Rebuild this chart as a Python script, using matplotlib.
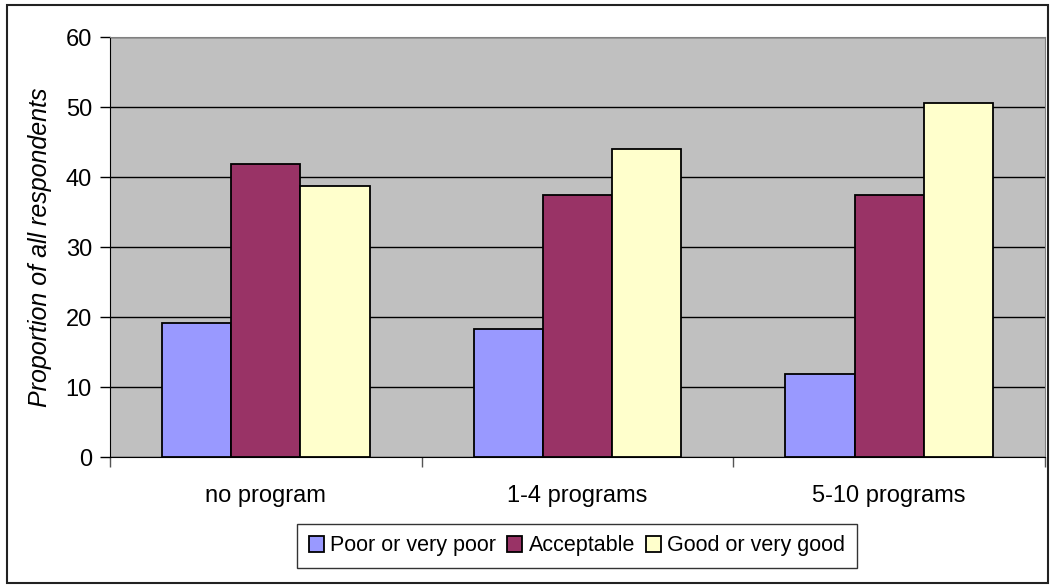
import matplotlib
matplotlib.use("Agg")
import matplotlib.pyplot as plt
import numpy as np
from matplotlib.patches import Rectangle

plt.rcParams['font.family'] = ['Liberation Sans', 'DejaVu Sans']

categories = ["no program", "1-4 programs", "5-10 programs"]
series_names = ["Poor or very poor", "Acceptable", "Good or very good"]
poor = [19.2, 18.3, 11.9]
acceptable = [41.8, 37.5, 37.5]
good = [38.7, 44.0, 50.6]
colors = ["#9999FF", "#993366", "#FFFFCC"]

W, H = 1050, 585
fig = plt.figure(figsize=(W / 100, H / 100), dpi=100)

# outer chart border
fig.patches.append(Rectangle((7 / W, 2 / H), 1041 / W, 578 / H, transform=fig.transFigure,
                             fill=False, edgecolor="#222222", linewidth=1.5))

ax = fig.add_axes([110 / W, (H - 457) / H, 935 / W, 420 / H])
ax.set_facecolor("#C0C0C0")

x = np.arange(len(categories))
bw = 0.222
for i, (vals, name) in enumerate(zip([poor, acceptable, good], series_names)):
    ax.bar(x + (i - 1) * bw, vals, bw, color=colors[i], edgecolor="black",
           linewidth=1.3, label=name, zorder=3)

ax.set_xlim(-0.5, len(categories) - 0.5)
ax.set_ylim(0, 60)
ax.set_yticks(range(0, 61, 10))
ax.yaxis.grid(True, color="black", linewidth=1.0, zorder=1)
ax.set_axisbelow(True)

ax.set_xticks(x)
ax.set_xticklabels(categories, fontsize=17)
ax.tick_params(axis="x", which="major", length=0, pad=20)
ax.set_xticks(np.arange(-0.5, len(categories)), minor=True)
ax.tick_params(axis="x", which="minor", length=7, width=1, color="#555555", direction="out")
ax.tick_params(axis="y", length=7, width=1, labelsize=17, pad=6)

ax.spines["top"].set_color("#808080")
ax.spines["right"].set_color("#808080")
ax.spines["left"].set_color("black")
ax.spines["bottom"].set_color("black")

ax.set_ylabel("Proportion of all respondents", fontsize=18, style="italic", labelpad=10)

leg = fig.legend(loc="center", bbox_to_anchor=(577 / W, (H - 546) / H), ncol=3,
                 fontsize=15.5, frameon=True, fancybox=False, handlelength=0.7,
                 handleheight=0.7, handletextpad=0.3, columnspacing=0.5,
                 borderpad=0.55, edgecolor="black")
leg.get_frame().set_linewidth(1.0)

fig.savefig("out.png", dpi=100)
